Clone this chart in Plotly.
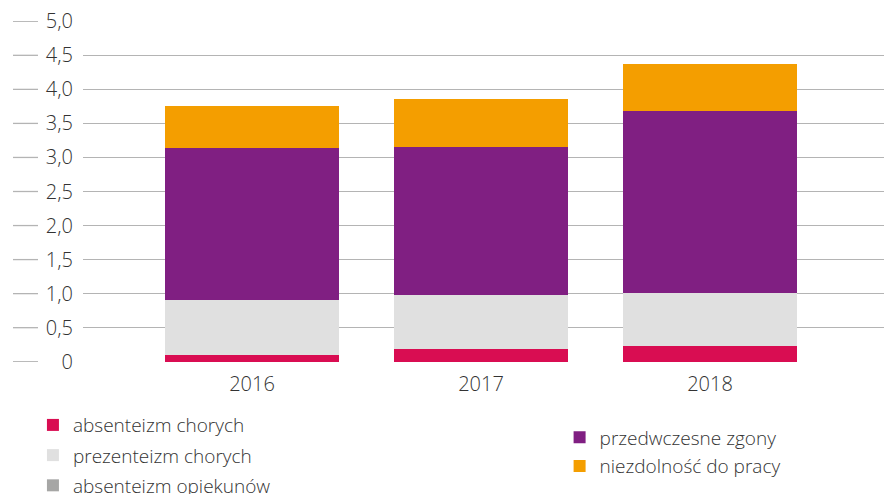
import plotly.graph_objects as go

years = ["2016", "2017", "2018"]
absenteizm_chorych = [0.10, 0.19, 0.235]
prezenteizm_chorych = [0.81, 0.79, 0.775]
absenteizm_opiekunow = [0.0, 0.0, 0.0]
przedwczesne_zgony = [2.23, 2.17, 2.67]
niezdolnosc_do_pracy = [0.61, 0.71, 0.69]

y_ticks = [0, 0.5, 1.0, 1.5, 2.0, 2.5, 3.0, 3.5, 4.0, 4.5, 5.0]
y_ticklabels = ["0", "0,5", "1,0", "1,5", "2,0", "2,5", "3,0", "3,5", "4,0", "4,5", "5,0"]

series = [
    ("absenteizm chorych", absenteizm_chorych, "#d90d52", "legend"),
    ("prezenteizm chorych", prezenteizm_chorych, "#e0e0e0", "legend"),
    ("absenteizm opiekunów", absenteizm_opiekunow, "#a6a6a5", "legend"),
    ("przedwczesne zgony", przedwczesne_zgony, "#801f82", "legend2"),
    ("niezdolność do pracy", niezdolnosc_do_pracy, "#f49e00", "legend2"),
]

FONT = "Open Sans"
TXT = "#333333"
GRID = "#b4b4b4"

fig = go.Figure()
for i, (name, vals, color, lg) in enumerate(series):
    fig.add_trace(go.Bar(
        x=list(range(len(years))), y=vals, name=name,
        marker=dict(color=color, line=dict(width=0)),
        legend=lg, legendgroup=f"g{i}",
        hoverinfo="name+y",
    ))

# gridline stubs left of tick labels
for t in y_ticks:
    fig.add_shape(type="line", xref="paper", yref="y",
                  x0=-0.0874, x1=-0.0562, y0=t, y1=t,
                  line=dict(color=GRID, width=1.3), layer="below")

fig.update_layout(
    barmode="stack",
    bargap=0.24,
    width=884, height=494,
    margin=dict(l=83, r=0, t=21, b=132),
    paper_bgcolor="white", plot_bgcolor="white",
    font=dict(family=FONT, size=20, color=TXT, weight=300),
    xaxis=dict(
        tickmode="array", tickvals=list(range(len(years))), ticktext=years,
        range=[-0.738, 2.76], showgrid=False, zeroline=False, showline=False,
        ticks="", ticklabelstandoff=8, tickfont=dict(size=20, color=TXT),
    ),
    yaxis=dict(
        tickmode="array", tickvals=y_ticks, ticktext=y_ticklabels,
        range=[-0.004, 5.004], showgrid=True, gridcolor=GRID, gridwidth=1.3,
        zeroline=False, showline=False, ticks="", ticklabelstandoff=9,
        tickfont=dict(size=20, color=TXT),
    ),
    legend=dict(x=-0.0625, xanchor="left", xref="paper",
                y=0.178, yanchor="top", yref="container",
                orientation="v", traceorder="grouped", tracegroupgap=2.5,
                font=dict(size=19, color=TXT), bgcolor="rgba(0,0,0,0)"),
    legend2=dict(x=0.595, xanchor="left", xref="paper",
                 y=0.153, yanchor="top", yref="container",
                 orientation="v", traceorder="grouped", tracegroupgap=1,
                 font=dict(size=19, color=TXT), bgcolor="rgba(0,0,0,0)"),
    showlegend=True,
)

fig.write_html("out.html", config={"displayModeBar": False},
               post_script="document.body.style.margin='0';")
